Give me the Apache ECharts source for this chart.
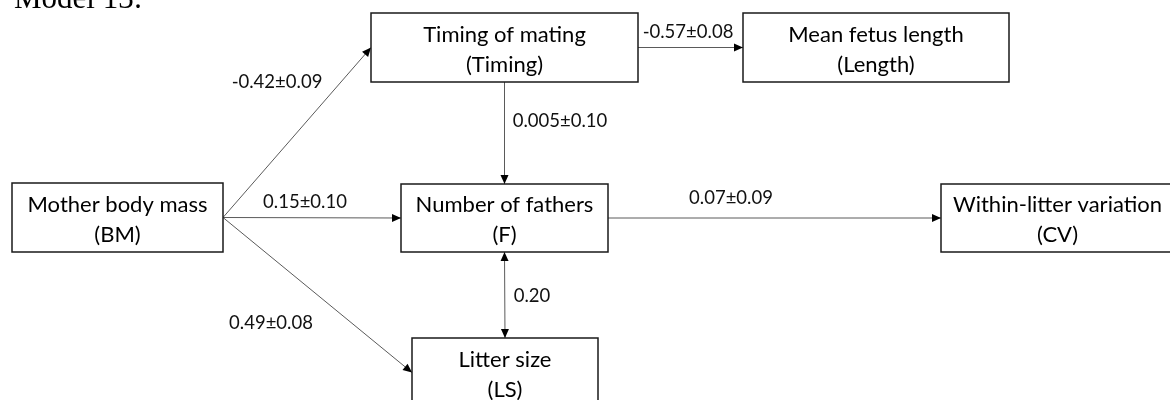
<!DOCTYPE html>
<html>
<head>
<meta charset="utf-8">
<script src="https://cdn.jsdelivr.net/npm/echarts@6/dist/echarts.min.js"></script>
<style>
  html, body { margin: 0; padding: 0; background: #fff; }
  #main { width: 1170px; height: 400px; }
</style>
</head>
<body>
<div id="main"></div>
<script>
// path model: variables and standardized coefficients
const nodeIds = ["BM", "Timing", "Length", "F", "CV", "LS"];
const nodeLabels = [
  "Mother body mass\n(BM)",
  "Timing of mating\n(Timing)",
  "Mean fetus length\n(Length)",
  "Number of fathers\n(F)",
  "Within-litter variation\n(CV)",
  "Litter size\n(LS)"
];
const edgeFrom = ["BM", "BM", "BM", "Timing", "Timing", "F", "F"];
const edgeTo = ["Timing", "F", "LS", "Length", "F", "CV", "LS"];
const edgeLabels = ["-0.42±0.09", "0.15±0.10", "0.49±0.08", "-0.57±0.08", "0.005±0.10", "0.07±0.09", "0.20"];

// layout of the diagram (page units, y down)
const nodeBox = {
  BM: [12, 183, 223, 252],
  Timing: [371, 13, 638, 82],
  Length: [743, 13, 1009, 82],
  F: [401, 184, 608, 252],
  CV: [941, 184, 1174, 252],
  LS: [412, 338, 598, 407]
};
const edgeSides = [["r", "l"], ["r", "l"], ["r", "l"], ["r", "l"], ["b", "t"], ["r", "l"], ["b", "t"]];
const edgeBoth = [false, false, false, false, false, false, true];
const labelPos = [[277, 82], [305, 202], [271, 323], [688, 32], [560, 121], [731, 198], [532, 296]];

function anchor(id, side) {
  const b = nodeBox[id];
  const cx = (b[0] + b[2]) / 2, cy = (b[1] + b[3]) / 2;
  if (side === "r") return [b[2], cy];
  if (side === "l") return [b[0], cy];
  if (side === "t") return [cx, b[1]];
  return [cx, b[3]];
}

const edgeData = edgeFrom.map((f, i) => {
  const p = anchor(f, edgeSides[i][0]);
  const q = anchor(edgeTo[i], edgeSides[i][1]);
  return [p[0], p[1], q[0], q[1], i];
});
const nodeData = nodeIds.map((id, i) => nodeBox[id].concat([i]));

function arrowHead(tip, from, len, half) {
  const dx = tip[0] - from[0], dy = tip[1] - from[1];
  const d = Math.sqrt(dx * dx + dy * dy);
  const ux = dx / d, uy = dy / d;
  const bx = tip[0] - ux * len, by = tip[1] - uy * len;
  return {
    type: "polygon",
    shape: { points: [tip, [bx - uy * half, by + ux * half], [bx + uy * half, by - ux * half]] },
    style: { fill: "#000" }
  };
}

const chart = echarts.init(document.getElementById("main"));
chart.setOption({
  animation: false,
  title: {
    text: "Model 13:",
    left: 9,
    top: -21,
    textStyle: { fontFamily: "Liberation Serif", fontSize: 31, fontWeight: "normal", color: "#000" }
  },
  grid: { left: 0, right: 0, top: 0, bottom: 0 },
  xAxis: { type: "value", min: 0, max: 1170, show: false },
  yAxis: { type: "value", min: 0, max: 400, inverse: true, show: false },
  series: [
    {
      type: "custom",
      data: edgeData,
      clip: false,
      renderItem: function (params, api) {
        const i = api.value(4);
        const p = api.coord([api.value(0), api.value(1)]);
        const q = api.coord([api.value(2), api.value(3)]);
        const kids = [
          {
            type: "line",
            shape: { x1: p[0], y1: p[1], x2: q[0], y2: q[1] },
            style: { stroke: "#5a5a5a", lineWidth: 1 }
          },
          arrowHead(q, p, 9, 4)
        ];
        if (edgeBoth[i]) kids.push(arrowHead(p, q, 9, 4));
        const lp = api.coord(labelPos[i]);
        kids.push({
          type: "text",
          x: lp[0],
          y: lp[1],
          style: {
            text: edgeLabels[i],
            align: "center",
            verticalAlign: "middle",
            fontFamily: "Lato",
            fontSize: 18.5,
            fill: "#111"
          }
        });
        return { type: "group", children: kids };
      }
    },
    {
      type: "custom",
      data: nodeData,
      clip: false,
      renderItem: function (params, api) {
        const i = api.value(4);
        const a = api.coord([api.value(0), api.value(1)]);
        const b = api.coord([api.value(2), api.value(3)]);
        return {
          type: "group",
          children: [
            {
              type: "rect",
              shape: { x: a[0], y: a[1], width: b[0] - a[0], height: b[1] - a[1] },
              style: { fill: "#fff", stroke: "#1a1a1a", lineWidth: 1.5 }
            },
            {
              type: "text",
              x: (a[0] + b[0]) / 2,
              y: (a[1] + b[1]) / 2 + 2,
              style: {
                text: nodeLabels[i],
                align: "center",
                verticalAlign: "middle",
                fontFamily: "Lato",
                fontSize: 22,
                lineHeight: 30,
                fill: "#000"
              }
            }
          ]
        };
      }
    }
  ]
});
</script>
</body>
</html>
